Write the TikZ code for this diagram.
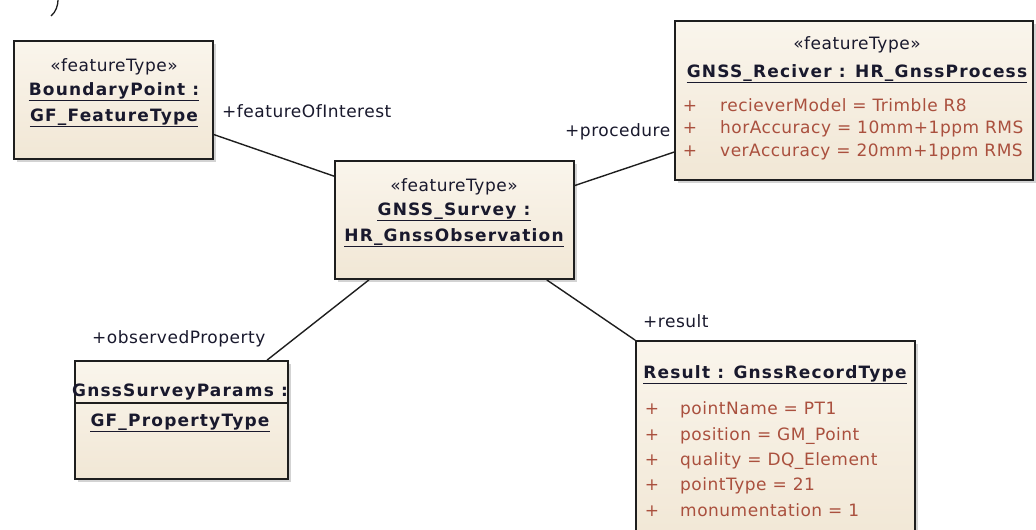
\documentclass[tikz,border=0pt]{standalone}
\usepackage{fontspec}
\newfontfamily\umlfont[LetterSpace=3]{DejaVu Sans}
\newfontfamily\umlbfont[LetterSpace=7]{DejaVu Sans}
\usetikzlibrary{calc,shadows}
\definecolor{boxfill}{RGB}{241,231,213}
\definecolor{boxtop}{RGB}{250,245,236}
\definecolor{edgecol}{RGB}{30,30,30}
\definecolor{txtcol}{RGB}{25,25,45}
\definecolor{attrcol}{RGB}{170,80,62}
\definecolor{shadowcol}{RGB}{175,175,175}
\newcommand\ulnode[1]{\draw[ulline] ($(#1.base west)+(0,5.5)$) -- ($(#1.base east)+(0,5.5)$);}
\begin{document}
\begin{tikzpicture}[x=1pt,y=-1pt,
  umlbox/.style={draw=edgecol, line width=1.8pt, top color=boxtop, bottom color=boxfill,
    inner sep=0pt, drop shadow={shadow xshift=3pt, shadow yshift=-3pt, fill=shadowcol, opacity=0.55}},
  conn/.style={draw=edgecol, line width=1.4pt},
  ulline/.style={draw=txtcol, line width=1.3pt},
  txt/.style={inner sep=0pt, anchor=base, text=txtcol, font=\umlfont\fontsize{17}{20}\selectfont},
  ttl/.style={inner sep=0pt, anchor=base, text=txtcol, font=\umlbfont\bfseries\fontsize{17}{20}\selectfont},
  lbl/.style={inner sep=0pt, anchor=base west, text=txtcol, font=\umlfont\fontsize{17}{20}\selectfont},
  attr/.style={inner sep=0pt, anchor=base west, text=attrcol, font=\umlfont\fontsize{17}{20}\selectfont},
  plus/.style={inner sep=0pt, anchor=base, text=attrcol, font=\umlfont\fontsize{17}{20}\selectfont}]
\useasboundingbox (0,0) rectangle (1036,530);
\fill[white] (0,0) rectangle (1036,530);

% small fragment top-left
\draw[edgecol, line width=1.3pt] (51,16) .. controls (56,12) and (58,5) .. (58,0);

% boxes
\node[umlbox, minimum width=199pt, minimum height=118pt] (bp) at (113.5,100) {};
\node[umlbox, minimum width=358pt, minimum height=159pt] (rcv) at (854,100.5) {};
\node[umlbox, minimum width=239pt, minimum height=118pt] (srv) at (454.5,220) {};
\node[umlbox, minimum width=213pt, minimum height=118pt] (gsp) at (181.5,420) {};
\node[umlbox, minimum width=279pt, minimum height=204pt] (res) at (775.5,443) {};

% connectors
\draw[conn] (bp.-19.4) -- (srv.160.2);
\draw[conn] (srv.16.3) -- (rcv.196.6);
\draw[conn] (srv.215.6) -- (gsp.35.2);
\draw[conn] (srv.-33.7) -- (res.north west);

% connector labels
\node[lbl] (lfoi) at (222,117) {+featureOfInterest};
\node[lbl] (lproc) at (565,136) {+procedure};
\node[lbl] (lobs) at (92,343) {+observedProperty};
\node[lbl] (lres) at (643,327) {+result};

% BoundaryPoint
\node[txt] (bps) at (114,71) {«featureType»};
\node[ttl] (bpt1) at (114,95) {BoundaryPoint :};
\node[ttl] (bpt2) at (114,121) {GF\_FeatureType};
\ulnode{bpt1}\ulnode{bpt2}

% GNSS_Reciver
\node[txt] (rcs) at (857,49) {«featureType»};
\node[ttl] (rct) at (857,77) {GNSS\_Reciver : HR\_GnssProcess};
\ulnode{rct}
\node[plus] (rp1) at (690,111) {+};
\node[plus] (rp2) at (690,133) {+};
\node[plus] (rp3) at (690,156) {+};
\node[attr] (ra1) at (720,111) {recieverModel = Trimble R8};
\node[attr] (ra2) at (720,133) {horAccuracy = 10mm+1ppm RMS};
\node[attr] (ra3) at (720,156) {verAccuracy = 20mm+1ppm RMS};

% GNSS_Survey
\node[txt] (svs) at (454,191) {«featureType»};
\node[ttl] (svt1) at (454,215) {GNSS\_Survey :};
\node[ttl] (svt2) at (454,241) {HR\_GnssObservation};
\ulnode{svt1}\ulnode{svt2}

% GnssSurveyParams
\node[ttl] (gst1) at (180,396) {GnssSurveyParams :};
\draw[edgecol, line width=1.5pt] (gsp.west |- 0,403) -- (gsp.east |- 0,403);
\node[ttl] (gst2) at (180,426) {GF\_PropertyType};
\ulnode{gst2}

% Result
\node[ttl] (rst) at (775,378) {Result : GnssRecordType};
\ulnode{rst}
\node[plus] (sp1) at (652,414) {+};
\node[plus] (sp2) at (652,440) {+};
\node[plus] (sp3) at (652,465) {+};
\node[plus] (sp4) at (652,490) {+};
\node[plus] (sp5) at (652,516) {+};
\node[attr] (sa1) at (680,414) {pointName = PT1};
\node[attr] (sa2) at (680,440) {position = GM\_Point};
\node[attr] (sa3) at (680,465) {quality = DQ\_Element};
\node[attr] (sa4) at (680,490) {pointType = 21};
\node[attr] (sa5) at (680,516) {monumentation = 1};
\end{tikzpicture}
\end{document}
